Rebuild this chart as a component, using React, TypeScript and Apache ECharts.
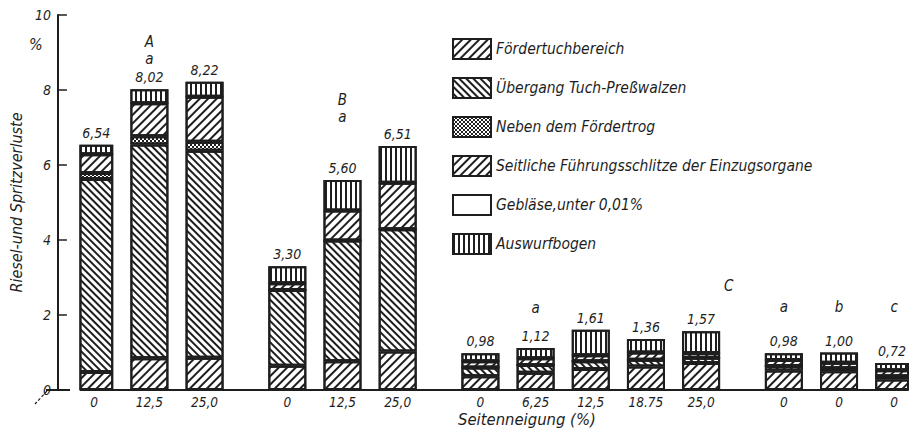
import React, { useEffect, useRef } from "react";
import * as echarts from "echarts";

// ---- data ----
const groupSizes = [3, 3, 5, 3];
const barLabels = ["0", "12,5", "25,0", "0", "12,5", "25,0", "0", "6,25", "12,5", "18.75", "25,0", "0", "0", "0"];
const totals = ["6,54", "8,02", "8,22", "3,30", "5,60", "6,51", "0,98", "1,12", "1,61", "1,36", "1,57", "0,98", "1,00", "0,72"];

const foerdertuch = [0.48, 0.85, 0.86, 0.65, 0.77, 1.03, 0.37, 0.46, 0.56, 0.63, 0.72, 0.52, 0.5, 0.28];
const uebergang = [5.15, 5.7, 5.52, 2.02, 3.22, 3.26, 0.23, 0.21, 0.21, 0.18, 0.14, 0.12, 0.08, 0.09];
const neben = [0.16, 0.22, 0.24, 0, 0, 0, 0, 0, 0, 0, 0, 0, 0, 0];
const seitlich = [0.5, 0.88, 1.2, 0.18, 0.8, 1.24, 0.17, 0.18, 0.16, 0.19, 0.13, 0.16, 0.15, 0.16];
const geblaese = [0, 0, 0, 0, 0, 0, 0, 0, 0, 0, 0, 0, 0, 0];
const auswurf = [0.25, 0.37, 0.4, 0.45, 0.81, 0.98, 0.21, 0.27, 0.68, 0.36, 0.58, 0.18, 0.27, 0.19];

const seriesNames = [
  "Fördertuchbereich",
  "Übergang Tuch-Preßwalzen",
  "Neben dem Fördertrog",
  "Seitliche Führungsschlitze der Einzugsorgane",
  "Gebläse,unter 0,01%",
  "Auswurfbogen",
];

// group annotations: [bar index, value-axis height, text]
const annotations: [number, number, string][] = [
  [1, 9.05, "A\na"],
  [4, 7.52, "B\na"],
  [7, 2.19, "a"],
  [11, 2.21, "a"],
  [12, 2.21, "b"],
  [13, 2.21, "c"],
];
const groupCLetter: [number, string] = [10, "C"]; // placed one slot after bar index 10
const groupCLetterHeight = 2.77;

const INK = "#1e1e1e";
const FONT = "DejaVu Sans Condensed";

export default function App() {
  const ref = useRef<HTMLDivElement>(null);
  useEffect(() => {
    if (!ref.current) return;
    const chart = echarts.init(ref.current, undefined, { renderer: "svg" });

    // build categories with spacer slots
    const categories: string[] = [];
    const slotBar: number[] = [];
    const barCat: number[] = [];
    let b = 0;
    groupSizes.forEach((n, g) => {
      if (g > 0) {
        categories.push("", "");
        slotBar.push(-1, -1);
      }
      for (let i = 0; i < n; i++) {
        if (i > 0) {
          categories.push("");
          slotBar.push(-1);
        }
        barCat.push(categories.length);
        categories.push(barLabels[b]);
        slotBar.push(b);
        b++;
      }
    });
    const expand = (arr: number[]) => slotBar.map((s) => (s >= 0 ? arr[s] : "-"));

    const line = (gap: number, w: number, rot: number) => ({
      symbol: "rect",
      symbolSize: 1,
      dashArrayX: [1, 0],
      dashArrayY: [w, gap],
      rotation: rot,
      color: INK,
    });

    const decals: any[] = [
      line(3.6, 1.1, -Math.PI / 4),
      line(2.6, 1.1, Math.PI / 4),
      { symbol: "rect", symbolSize: 1, dashArrayX: [[2, 2], [0, 2, 2, 0]], dashArrayY: [2, 0], rotation: 0, color: INK },
      line(3.2, 1.8, -Math.PI / 4),
      null,
      { symbol: "rect", symbolSize: 1, dashArrayX: [1.2, 2.6], dashArrayY: [1, 0], rotation: 0, color: INK },
    ];
    const datasets = [foerdertuch, uebergang, neben, seitlich, geblaese, auswurf];

    const barSeries = datasets.map((d, i) => ({
      type: "bar",
      name: seriesNames[i],
      stack: "total",
      barWidth: 38,
      data: expand(d),
      itemStyle: {
        color: "#fff",
        borderColor: INK,
        borderWidth: 2,
        decal: decals[i] || undefined,
      },
      label:
        i === 5
          ? {
              show: true,
              position: "top",
              distance: 5,
              fontFamily: FONT,
              fontStyle: "italic",
              fontSize: 14,
              color: INK,
              formatter: (p: any) => totals[slotBar[p.dataIndex]],
            }
          : { show: false },
    }));

    const annData: any[] = annotations.map(([bi, h, t]) => [barCat[bi], h, t]);
    annData.push([barCat[groupCLetter[0]] + 1, groupCLetterHeight, groupCLetter[1]]);

    chart.setOption({
      animation: false,
      backgroundColor: "#fff",
      grid: { left: 69.5, right: 5, top: 15, bottom: 47, containLabel: false },
      legend: {
        orient: "vertical",
        left: 447,
        top: 33,
        itemWidth: 38,
        itemHeight: 20,
        itemGap: 17,
        icon: "rect",
        data: seriesNames,
        textStyle: { fontFamily: FONT, fontStyle: "italic", fontSize: 15.5, color: INK },
      },
      xAxis: {
        type: "category",
        data: categories,
        axisLine: { lineStyle: { color: INK, width: 2 } },
        axisTick: { show: false },
        axisLabel: {
          interval: 0,
          margin: 5,
          fontFamily: FONT,
          fontStyle: "italic",
          fontSize: 13.5,
          lineHeight: 14,
          color: INK,
        },
      },
      yAxis: {
        type: "value",
        min: 0,
        max: 10,
        interval: 2,
        offset: 22.5,
        name: "Riesel-und Spritzverluste",
        nameLocation: "middle",
        nameRotate: 90,
        nameGap: 28,
        nameTextStyle: { fontFamily: FONT, fontStyle: "italic", fontSize: 16, color: INK },
        axisLine: { show: true, lineStyle: { color: INK, width: 2 } },
        axisTick: { show: true, inside: true, length: 9, lineStyle: { color: INK, width: 1.5 } },
        splitLine: { show: false },
        axisLabel: { margin: 7, fontFamily: FONT, fontStyle: "italic", fontSize: 14, color: INK },
      },
      series: [
        ...barSeries,
        {
          type: "scatter",
          name: "annotations",
          symbolSize: 0,
          data: annData,
          itemStyle: { opacity: 1 },
          label: {
            show: true,
            position: "inside",
            fontFamily: FONT,
            fontStyle: "italic",
            fontSize: 15,
            lineHeight: 17,
            color: INK,
            opacity: 1,
            formatter: (p: any) => p.data[2],
          },
          silent: true,
        },
      ],
      graphic: [
        {
          type: "text",
          left: 29,
          top: 36,
          style: { text: "%", fontFamily: FONT, fontStyle: "italic", fontSize: 16, fill: INK },
        },
        {
          type: "text",
          left: 458,
          top: 411,
          style: { text: "Seitenneigung (%)", fontFamily: FONT, fontStyle: "italic", fontSize: 16.5, fill: INK },
        },
        { type: "line", shape: { x1: 46, y1: 390, x2: 70, y2: 390 }, style: { stroke: INK, lineWidth: 2 } },
        {
          type: "line",
          shape: { x1: 47, y1: 391, x2: 35, y2: 404 },
          style: { stroke: INK, lineWidth: 1.2, lineDash: [3, 2] },
        },
      ],
    });
    return () => chart.dispose();
  }, []);
  return (
    <div
      ref={ref}
      style={{ position: "absolute", left: 0, top: 0, width: 913, height: 437, background: "#fff" }}
    />
  );
}
